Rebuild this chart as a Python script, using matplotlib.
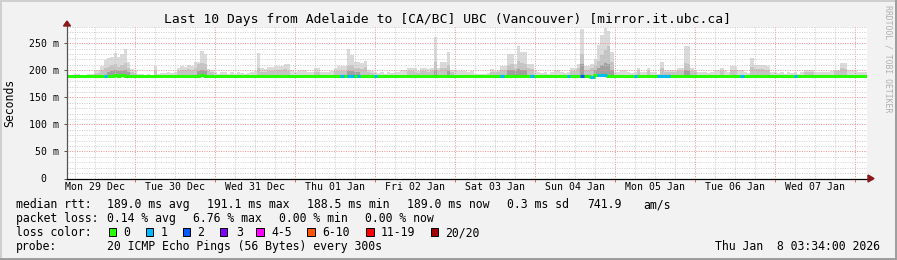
import numpy as np
import pandas as pd
import matplotlib
matplotlib.use('Agg')
import matplotlib.pyplot as plt
import matplotlib.dates as mdates
from matplotlib.patches import Rectangle, Polygon
from matplotlib.lines import Line2D
from matplotlib.ticker import MultipleLocator, FuncFormatter, NullFormatter

plt.rcParams['font.family'] = ['DejaVu Sans Mono']

W, H = 897, 260

# --- data (hourly, 10 days ending Thu Jan 8 03:34) ---
start = pd.Timestamp('2025-12-29 03:34')
end = pd.Timestamp('2026-01-08 03:34')
hours = pd.date_range(start, periods=240, freq='h')

# top of the smoke (max rtt, ms)
smoke_top = [
    191, 191, 194, 194, 192, 191, 193, 194, 200, 200, 208, 219, 222, 225, 232, 225, 231, 239, 216, 203, 200, 194, 193, 192,
    194, 192, 207, 194, 195, 195, 196, 195, 197, 204, 207, 206, 209, 207, 216, 216, 236, 231, 202, 200, 196, 194, 197, 196,
    194, 196, 193, 196, 195, 193, 195, 196, 198, 232, 204, 203, 206, 206, 207, 207, 208, 212, 212, 200, 196, 198, 201, 201,
    197, 196, 204, 204, 197, 197, 196, 198, 205, 207, 207, 207, 239, 228, 216, 216, 214, 218, 200, 199, 196, 195, 196, 194,
    196, 195, 197, 196, 200, 200, 204, 204, 204, 198, 204, 204, 203, 205, 262, 205, 216, 216, 234, 200, 200, 199, 198, 198,
    197, 198, 194, 194, 193, 194, 195, 202, 199, 200, 208, 208, 231, 231, 212, 244, 234, 234, 212, 212, 200, 196, 195, 196,
    194, 196, 200, 200, 196, 195, 196, 204, 204, 212, 277, 207, 207, 212, 220, 247, 265, 279, 272, 234, 196, 196, 200, 200,
    196, 195, 196, 204, 197, 196, 204, 197, 196, 194, 216, 200, 200, 200, 200, 204, 204, 245, 245, 204, 200, 196, 196, 196,
    195, 196, 200, 200, 204, 200, 196, 208, 208, 200, 200, 196, 195, 222, 210, 210, 210, 210, 208, 196, 196, 195, 196, 194,
    196, 195, 196, 194, 196, 200, 200, 200, 196, 196, 197, 197, 197, 198, 200, 200, 214, 214, 200, 200, 200, 196, 196, 196,
]
# middle (darker) smoke band, 0 = none
smoke_mid = [
    0, 0, 0, 0, 0, 0, 0, 0, 194, 195, 200, 204, 206, 210, 212, 206, 210, 214, 204, 196, 194, 0, 0, 0,
    0, 0, 198, 0, 0, 0, 0, 0, 0, 198, 200, 200, 202, 200, 204, 212, 214, 212, 198, 196, 0, 0, 0, 0,
    0, 0, 0, 0, 0, 0, 0, 0, 0, 205, 197, 197, 198, 199, 200, 200, 201, 202, 198, 0, 0, 0, 0, 0,
    0, 0, 197, 197, 0, 0, 0, 0, 198, 199, 199, 199, 208, 210, 205, 204, 203, 206, 196, 195, 0, 0, 0, 0,
    0, 0, 0, 0, 0, 0, 198, 198, 197, 195, 198, 198, 197, 198, 215, 199, 204, 205, 210, 196, 0, 0, 0, 0,
    0, 0, 0, 0, 0, 0, 0, 196, 196, 196, 200, 200, 210, 212, 204, 218, 214, 212, 204, 202, 0, 0, 0, 0,
    0, 0, 0, 0, 0, 0, 0, 198, 199, 204, 230, 200, 200, 204, 210, 218, 228, 238, 245, 215, 0, 0, 0, 0,
    0, 0, 0, 198, 0, 0, 198, 0, 0, 0, 205, 196, 196, 196, 196, 198, 198, 214, 212, 198, 196, 0, 0, 0,
    0, 0, 0, 0, 198, 0, 0, 200, 200, 0, 0, 0, 0, 206, 202, 202, 203, 201, 200, 0, 0, 0, 0, 0,
    0, 0, 0, 0, 0, 196, 196, 196, 0, 0, 0, 0, 0, 0, 198, 198, 204, 202, 0, 0, 0, 0, 0, 0,
]
# darkest smoke close to the median, 0 = none
smoke_dark = [
    0, 0, 0, 0, 0, 0, 0, 0, 0, 0, 0, 0, 197, 198, 200, 198, 199, 200, 197, 0, 0, 0, 0, 0,
    0, 0, 0, 0, 0, 0, 0, 0, 0, 0, 0, 0, 0, 0, 0, 199, 200, 199, 0, 0, 0, 0, 0, 0,
    0, 0, 0, 0, 0, 0, 0, 0, 0, 0, 0, 0, 0, 0, 0, 0, 0, 0, 0, 0, 0, 0, 0, 0,
    0, 0, 0, 0, 0, 0, 0, 0, 0, 0, 0, 0, 199, 198, 197, 197, 0, 0, 0, 0, 0, 0, 0, 0,
    0, 0, 0, 0, 0, 0, 0, 0, 0, 0, 0, 0, 0, 0, 200, 0, 0, 0, 198, 0, 0, 0, 0, 0,
    0, 0, 0, 0, 0, 0, 0, 0, 0, 0, 0, 0, 200, 201, 198, 203, 201, 200, 0, 0, 0, 0, 0, 0,
    0, 0, 0, 0, 0, 0, 0, 0, 0, 0, 212, 0, 0, 0, 200, 204, 210, 214, 212, 200, 0, 0, 0, 0,
    0, 0, 0, 0, 0, 0, 0, 0, 0, 0, 0, 0, 0, 0, 0, 0, 0, 200, 199, 0, 0, 0, 0, 0,
    0, 0, 0, 0, 0, 0, 0, 0, 0, 0, 0, 0, 0, 0, 0, 0, 0, 0, 0, 0, 0, 0, 0, 0,
    0, 0, 0, 0, 0, 0, 0, 0, 0, 0, 0, 0, 0, 0, 0, 0, 0, 0, 0, 0, 0, 0, 0, 0,
]
# median rtt (ms)
median = [
    189, 189, 189, 189, 189, 189, 189, 189, 189, 189, 189, 189, 189, 189, 192, 189, 192, 189, 189, 189, 189, 189, 189, 189,
    189, 189, 189, 189, 189, 189, 189, 189, 189, 189, 189, 189, 189, 189, 189, 189, 191, 189, 189, 189, 189, 189, 189, 189,
    189, 189, 189, 189, 189, 189, 189, 189, 189, 189, 189, 189, 189, 189, 189, 189, 189, 189, 189, 189, 189, 189, 189, 189,
    189, 189, 189, 189, 189, 189, 189, 189, 189, 189, 189, 189, 189, 189, 189, 189, 189, 189, 189, 189, 189, 189, 189, 189,
    189, 189, 189, 189, 189, 189, 189, 189, 189, 189, 189, 189, 189, 189, 189, 189, 189, 189, 189, 189, 189, 189, 189, 189,
    189, 189, 189, 189, 189, 189, 189, 189, 189, 189, 189, 189, 189, 189, 189, 189, 189, 189, 189, 189, 189, 189, 189, 189,
    189, 189, 189, 189, 189, 189, 189, 189, 189, 189, 190, 189, 189, 188, 191, 192, 192, 192, 190, 189, 189, 189, 189, 189,
    189, 189, 189, 189, 189, 189, 189, 189, 189, 189, 189, 189, 189, 189, 189, 189, 189, 189, 189, 189, 189, 189, 189, 189,
    189, 189, 189, 189, 189, 189, 189, 189, 189, 189, 189, 189, 189, 189, 189, 189, 189, 189, 189, 189, 189, 189, 189, 189,
    189, 189, 189, 189, 189, 189, 189, 189, 189, 189, 189, 189, 189, 189, 189, 189, 189, 189, 189, 189, 189, 189, 189, 189,
]
# lost pings (of 20) per hour
loss = [
    0, 0, 0, 0, 0, 0, 0, 0, 0, 0, 0, 1, 0, 0, 0, 0, 0, 0, 0, 0, 0, 0, 0, 0,
    0, 0, 0, 0, 0, 0, 0, 0, 0, 0, 0, 0, 0, 0, 0, 0, 0, 0, 0, 0, 0, 0, 0, 0,
    0, 0, 0, 0, 0, 0, 0, 0, 0, 0, 0, 0, 0, 0, 0, 0, 0, 0, 0, 0, 0, 0, 0, 0,
    0, 0, 0, 0, 0, 0, 0, 0, 0, 0, 1, 0, 1, 1, 0, 1, 0, 0, 0, 0, 1, 0, 0, 0,
    0, 0, 0, 0, 0, 0, 0, 0, 0, 0, 0, 0, 0, 0, 0, 0, 0, 0, 0, 0, 0, 0, 0, 0,
    0, 0, 0, 0, 0, 0, 0, 0, 0, 0, 1, 0, 0, 0, 0, 0, 0, 0, 0, 1, 0, 0, 0, 0,
    0, 0, 0, 0, 0, 0, 1, 0, 0, 0, 2, 0, 0, 1, 0, 1, 1, 1, 0, 0, 0, 0, 0, 0,
    0, 0, 1, 0, 0, 0, 0, 0, 0, 1, 1, 1, 1, 0, 0, 0, 0, 0, 0, 0, 0, 0, 0, 0,
    0, 0, 0, 0, 0, 0, 0, 0, 0, 0, 1, 0, 0, 0, 0, 0, 0, 0, 0, 0, 0, 0, 0, 0,
    0, 0, 1, 0, 0, 0, 0, 0, 0, 0, 0, 0, 0, 0, 0, 0, 0, 0, 0, 0, 0, 0, 0, 0,
]

loss_labels = ['0', '1', '2', '3', '4-5', '6-10', '11-19', '20/20']
loss_colors = ['#26ff00', '#00b8ff', '#0059ff', '#7e00ff', '#ff00ff', '#ff5500', '#ff0000', '#a10000']
loss_upper = [0, 1, 2, 3, 5, 10, 19, 20]

title = 'Last 10 Days from Adelaide to [CA/BC] UBC (Vancouver) [mirror.it.ubc.ca]'
rtt_stats = ['189.0 ms avg', '191.1 ms max', '188.5 ms min', '189.0 ms now', '0.3 ms sd', '741.9', 'am/s']
loss_stats = ['0.14 % avg', '6.76 % max', '0.00 % min', '0.00 % now']
probe_text = '20 ICMP Echo Pings (56 Bytes) every 300s'
stamp = 'Thu Jan  8 03:34:00 2026'


def loss_color(n):
    for up, c in zip(loss_upper, loss_colors):
        if n <= up:
            return c
    return loss_colors[-1]


def fx(x):
    return x / W


def fy(y):
    return 1 - y / H


fig = plt.figure(figsize=(W / 100, H / 100), dpi=100, facecolor='#f2f2f2')
ax = fig.add_axes([fx(67), fy(178.5), 800 / W, 151.5 / H])
ax.set_facecolor('white')

x = mdates.date2num(hours.to_pydatetime())
step = 1 / 24
base = 187.5
top = np.array(smoke_top, float)
mid = np.array(smoke_mid, float)
dark = np.array(smoke_dark, float)
med = np.array(median, float)

ax.bar(x, top - base, bottom=base, width=step, align='edge', color='#dadada', linewidth=0, zorder=1)
ax.bar(x, np.where(mid > 0, mid - base, 0), bottom=base, width=step, align='edge',
       color='#c4c4c4', linewidth=0, zorder=1)
ax.bar(x, np.where(dark > 0, dark - base, 0), bottom=base, width=step, align='edge',
       color='#a0a0a0', linewidth=0, zorder=1)

# median line, coloured by loss
xe = np.append(x, x[-1] + step)
ax.step(xe, np.append(med, med[-1]), where='post', color=loss_colors[0], lw=2.2,
        solid_capstyle='butt', zorder=3)
for i, n in enumerate(loss):
    if n > 0:
        ax.hlines(med[i], x[i], x[i] + step, color=loss_color(n), lw=2.2, zorder=4)

ax.set_xlim(mdates.date2num(start.to_pydatetime()), mdates.date2num(end.to_pydatetime()))
ax.set_ylim(0, 280)

# grid
ax.xaxis.set_major_locator(mdates.DayLocator())
ax.xaxis.set_major_formatter(NullFormatter())
ax.xaxis.set_minor_locator(mdates.HourLocator(byhour=[6, 12, 18]))


def xlab(v, pos):
    d = mdates.num2date(v)
    return d.strftime('%a %d %b') if d.hour == 12 else ''


ax.xaxis.set_minor_formatter(FuncFormatter(xlab))
ax.yaxis.set_major_locator(MultipleLocator(50))
ax.yaxis.set_minor_locator(MultipleLocator(10))
ax.yaxis.set_major_formatter(FuncFormatter(lambda v, p: '0  ' if v == 0 else f'{int(v)} m'))

ax.grid(which='major', color='#f09090', lw=0.72, linestyle=(0, (1, 1.4)))
ax.grid(which='minor', color='#cccccc', lw=0.72, linestyle=(0, (1, 1.4)))

ax.tick_params(axis='x', which='major', length=2.5, width=0.72, color='#e06060', direction='out')
ax.tick_params(axis='x', which='minor', length=0, pad=2.2, labelsize=7.1)
ax.tick_params(axis='y', which='major', length=2, width=0.72, color='#555555', pad=3.6, labelsize=7.1)
ax.tick_params(axis='y', which='minor', length=0)

for s in ['top', 'right', 'left', 'bottom']:
    ax.spines[s].set_visible(False)

# axes with arrows
ax.plot([0, 0], [0, 1 + 5 / 151.5], transform=ax.transAxes, color='#555555', lw=0.9,
        clip_on=False, zorder=5)
ax.plot([0, 1 + 5 / 800], [0, 0], transform=ax.transAxes, color='black', lw=0.9,
        clip_on=False, zorder=5)
arrow_up = Polygon([[fx(63.5), fy(26)], [fx(70.5), fy(26)], [fx(67), fy(21)]], closed=True,
                   transform=fig.transFigure, color='#8b1a1a')
arrow_right = Polygon([[fx(868), fy(175)], [fx(868), fy(182)], [fx(874), fy(178.5)]], closed=True,
                      transform=fig.transFigure, color='#8b1a1a')
fig.add_artist(arrow_up)
fig.add_artist(arrow_right)

# texts
fig.text(fx(447), fy(23.5), title, ha='center', va='baseline', fontsize=9.4)
fig.text(fx(10), fy(102.5), 'Seconds', rotation=90, ha='center', va='center', fontsize=8.3)
fig.text(fx(888), fy(5), 'RRDTOOL / TOBI OETIKER', rotation=270, ha='center', va='top',
         fontsize=5.9, color='#b0b0b0')

fs = 8.3
fig.text(fx(16), fy(208), 'median rtt:', fontsize=fs, va='baseline')
for s, xp in zip(rtt_stats, [107, 207, 307, 407, 507, 587, 643]):
    fig.text(fx(xp), fy(208), s, fontsize=fs, va='baseline')
fig.text(fx(16), fy(222), 'packet loss:', fontsize=fs, va='baseline')
for s, xp in zip(loss_stats, [107, 193, 279, 365]):
    fig.text(fx(xp), fy(222), s, fontsize=fs, va='baseline')
fig.text(fx(16), fy(236), 'loss color:', fontsize=fs, va='baseline')
for lab, c, bx, tx in zip(loss_labels, loss_colors,
                          [108.5, 145.5, 182.5, 219.5, 256, 307, 366, 430.5],
                          [123, 161, 197, 236, 271, 322, 381, 445]):
    fig.add_artist(Rectangle((fx(bx), fy(236)), 7.5 / W, 8 / H, transform=fig.transFigure,
                             facecolor=c, edgecolor='black', lw=0.7))
    fig.text(fx(tx), fy(236), lab, fontsize=fs, va='baseline')
fig.text(fx(16), fy(250), 'probe:', fontsize=fs, va='baseline')
fig.text(fx(107), fy(250), probe_text, fontsize=fs, va='baseline')
fig.text(fx(880), fy(250), stamp, fontsize=fs, va='baseline', ha='right')

# 3d frame
fig.add_artist(Line2D([0, 1], [fy(1), fy(1)], transform=fig.transFigure, color='#cfcfcf', lw=1.44))
fig.add_artist(Line2D([fx(1), fx(1)], [0, 1], transform=fig.transFigure, color='#cfcfcf', lw=1.44))
fig.add_artist(Line2D([0, 1], [fy(259), fy(259)], transform=fig.transFigure, color='#9e9e9e', lw=1.44))
fig.add_artist(Line2D([fx(896), fx(896)], [0, 1], transform=fig.transFigure, color='#9e9e9e', lw=1.44))

fig.savefig('out.png', dpi=100, facecolor=fig.get_facecolor())
